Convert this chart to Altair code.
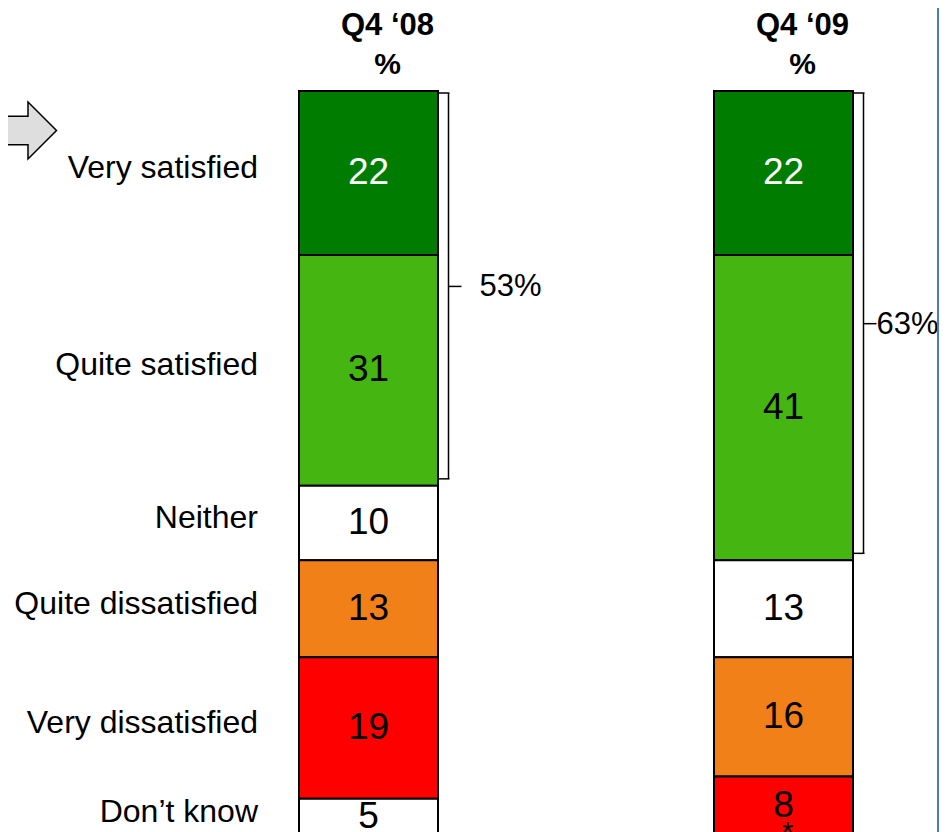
import altair as alt
import pandas as pd

# ---- data ----
periods = ["Q4 ‘08", "Q4 ‘09"]
categories = ["Very satisfied", "Quite satisfied", "Neither",
              "Quite dissatisfied", "Very dissatisfied", "Don’t know"]
values_q4_08 = [22, 31, 10, 13, 19, 5]
values_q4_09 = [22, 41, 13, 16, 8, 0]
labels_q4_08 = ["22", "31", "10", "13", "19", "5"]
labels_q4_09 = ["22", "41", "13", "16", "8", "*"]
colors = ["#007d00", "#44b511", "#ffffff", "#f28018", "#ff0000", "#ffffff"]

rows = []
for p, vals, labs in [(periods[0], values_q4_08, labels_q4_08),
                      (periods[1], values_q4_09, labels_q4_09)]:
    for i, (c, v, l) in enumerate(zip(categories, vals, labs)):
        rows.append({"period": p, "category": c, "rank": i, "value": v, "label": l})
df = pd.DataFrame(rows)
hdr = pd.DataFrame({"period": periods})
dec = alt.Data(values=[{"k": 1}])

F = "Liberation Sans, Arial, sans-serif"
W, H = 931, 836

xscale = alt.Scale(domain=periods, paddingInner=0.66506, paddingOuter=0.454215, align=0.77188)
yscale = alt.Scale(domain=[-11.141, 101.074], reverse=True, nice=False, zero=False)


def X():
    return alt.X("period:N", scale=xscale, axis=None, sort=periods)


def Y(f):
    return alt.Y(f, scale=yscale, axis=None)


base = alt.Chart(df).transform_window(
    cum="sum(value)", groupby=["period"], sort=[alt.SortField("rank")], frame=[None, 0]
).transform_calculate(
    start="datum.cum - datum.value", mid="datum.cum - datum.value / 2"
)

bars = base.mark_bar(stroke="black", strokeWidth=2).encode(
    x=X(), y=Y("start:Q"), y2="cum:Q",
    color=alt.Color("category:N", scale=alt.Scale(domain=categories, range=colors), legend=None),
)

vals = base.transform_filter("datum.value > 0").mark_text(
    font=F, fontSize=37, baseline="middle"
).encode(
    x=X(), y=Y("mid:Q"), text="label:N",
    color=alt.condition("datum.rank == 0", alt.value("white"), alt.value("black")),
)

ast = base.transform_filter("datum.value == 0").mark_text(
    font=F, fontSize=30, baseline="middle", dy=-3, dx=4, color="black"
).encode(x=X(), y=Y("mid:Q"), text="label:N")

cats = base.transform_filter(alt.datum.period == periods[0]).mark_text(
    font=F, fontSize=32, align="right", baseline="middle", dy=-5, color="black"
).encode(x=alt.value(250), y=Y("mid:Q"), text="category:N")

head1 = alt.Chart(hdr).mark_text(
    font=F, fontSize=31, fontWeight="bold", dx=19, baseline="alphabetic", color="black"
).encode(x=X(), y=alt.value(27), text="period:N")

head2 = alt.Chart(hdr).mark_text(
    font=F, fontSize=30, fontWeight="bold", dx=19, baseline="alphabetic", color="black"
).encode(x=X(), y=alt.value(66), text=alt.value("%"))

br = alt.Chart(df).transform_filter("datum.rank <= 1").transform_aggregate(
    hi="sum(value)", groupby=["period"]
).transform_calculate(lo="0", mid="datum.hi / 2", pct="datum.hi + '%'")

br_line = br.mark_rule(xOffset=80, yOffset=2, y2Offset=-7, strokeWidth=1.5, color="black").encode(
    x=X(), y=Y("lo:Q"), y2="hi:Q")
br_top = br.mark_tick(orient="horizontal", size=12, thickness=1.5, xOffset=75, yOffset=2,
                      color="black", opacity=1).encode(x=X(), y=Y("lo:Q"))
br_bot = br.mark_tick(orient="horizontal", size=12, thickness=1.5, xOffset=75, yOffset=-7,
                      color="black", opacity=1).encode(x=X(), y=Y("hi:Q"))
br_tip = br.mark_tick(orient="horizontal", size=13, thickness=1.5, xOffset=86.5, yOffset=-2,
                      color="black", opacity=1).encode(x=X(), y=Y("mid:Q"))
br_txt1 = br.transform_filter(alt.datum.period == periods[0]).mark_text(
    font=F, fontSize=31, align="left", baseline="middle", dx=111, dy=-1, color="black"
).encode(x=X(), y=Y("mid:Q"), text="pct:N")
br_txt2 = br.transform_filter(alt.datum.period == periods[1]).mark_text(
    font=F, fontSize=31, align="left", baseline="middle", dx=93, dy=-1, color="black"
).encode(x=X(), y=Y("mid:Q"), text="pct:N")

edge = alt.Chart(dec).mark_rule(color="#4a7ebb", strokeWidth=2).encode(
    x=alt.value(W - 1), y=alt.value(0), y2=alt.value(H))

arrow_path = "M-1.4,-0.5 L0,-0.5 L0,-1 L1,0 L0,1 L0,0.5 L-1.4,0.5 Z"
arrow = alt.Chart(dec).mark_point(
    shape=arrow_path, size=3249, filled=True, fill="#dedede", stroke="black",
    strokeWidth=1.5, opacity=1
).encode(x=alt.value(20), y=alt.value(122.5))

chart = alt.layer(
    bars, vals, ast, cats, head1, head2, br_line, br_top, br_bot, br_tip, br_txt1, br_txt2,
    edge, arrow
).properties(
    width=W, height=H, padding=0, autosize="none", background="white"
).configure_view(stroke=None)

chart.save("out.html", embed_options={"renderer": "svg", "actions": False})
